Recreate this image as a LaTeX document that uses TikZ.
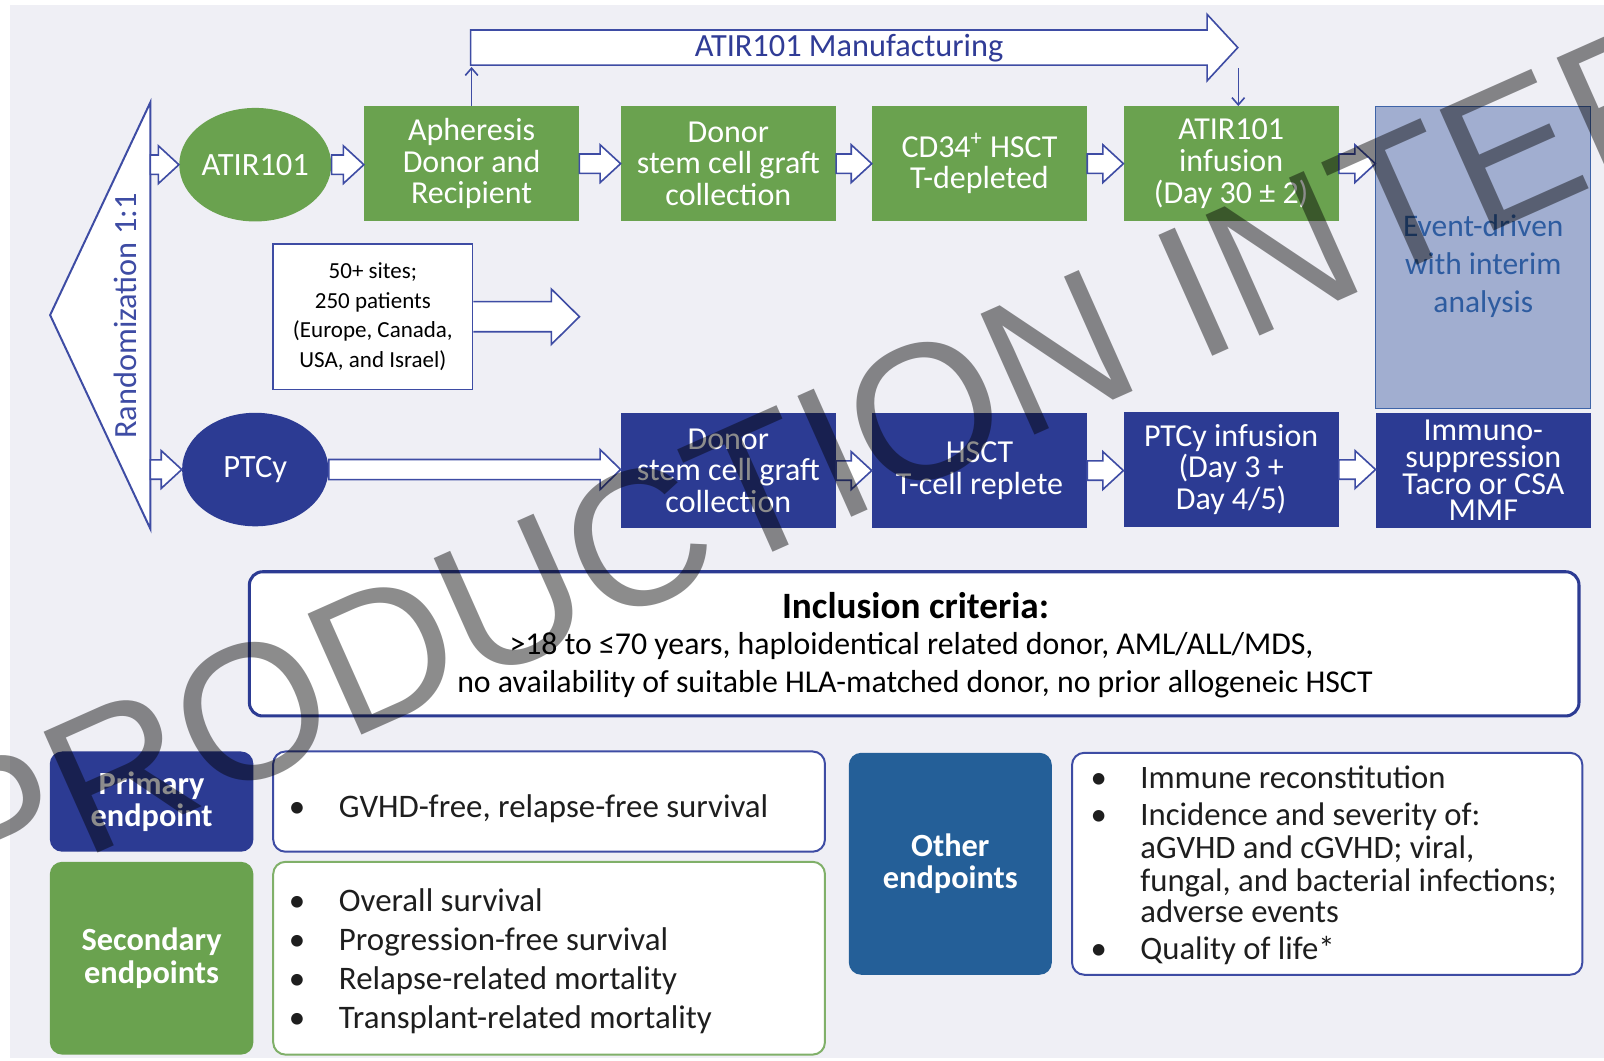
\documentclass[tikz,border=0pt]{standalone}
\usepackage{fontspec}
\setmainfont{Carlito}
\newfontfamily\wmfont{Liberation Sans}
\usetikzlibrary{calc,arrows.meta,shapes.geometric}

\definecolor{armgreen}{RGB}{106,162,79}
\definecolor{armblue}{RGB}{44,59,147}
\definecolor{lineblue}{RGB}{62,76,164}
\definecolor{textblue}{RGB}{48,60,150}
\definecolor{otherblue}{RGB}{36,95,152}
\definecolor{eventfill}{RGB}{161,174,208}
\definecolor{eventline}{RGB}{62,100,168}
\definecolor{eventtext}{RGB}{46,92,160}
\definecolor{slide}{RGB}{239,239,245}
\definecolor{ink}{RGB}{30,30,30}

% block arrow: from, to, shaft half, head half, head length
\newcommand\blockarrow[5]{%
  \draw[fat arrow] let \p1=#1, \p2=#2 in
    (\x1,{\y1+#3}) -- ({\x2-#5},{\y1+#3}) -- ({\x2-#5},{\y1+#4})
    -- (\x2,\y1) -- ({\x2-#5},{\y1-#4}) -- ({\x2-#5},{\y1-#3})
    -- (\x1,{\y1-#3}) -- cycle;}

\begin{document}
\begin{tikzpicture}[
    x=0.02cm, y=-0.02cm,
    >={Straight Barb[length=4pt,width=7pt]},
    fat arrow/.style={draw=lineblue, fill=white, line width=0.9pt},
    thin arrow/.style={draw=lineblue, line width=0.9pt, ->},
    arm box/.style={minimum width=4.2cm, minimum height=2.24cm, inner sep=0pt,
      align=center, text=white, font=\fontsize{17.8}{17.6}\selectfont},
    green box/.style={arm box, fill=armgreen},
    blue box/.style={arm box, fill=armblue},
    arm/.style={ellipse, minimum width=2.86cm, minimum height=2.22cm,
      inner sep=0pt, text=white, font=\fontsize{18.1}{18}\selectfont},
    label box/.style={rounded corners=0.24cm, text=white, align=center,
      inner sep=0pt, font=\bfseries\fontsize{18}{18.2}\selectfont},
    list box/.style={rounded corners=0.24cm, fill=white, line width=1.1pt},
    list text/.style={anchor=base west, inner sep=0pt, text=ink,
      font=\fontsize{18.3}{20}\selectfont},
    bullet/.style={anchor=base, inner sep=0pt, text=ink,
      font=\fontsize{18.3}{20}\selectfont},
    other text/.style={list text, font=\fontsize{18.2}{19}\selectfont},
    other bullet/.style={bullet, font=\fontsize{18.2}{19}\selectfont}
  ]

  \useasboundingbox (0,0) rectangle (1568,1037);
  \fill[slide] (10,5) rectangle (1568,1034);

  % Randomization
  \coordinate (randT) at (147,100);
  \coordinate (randB) at (147,517);
  \coordinate (randL) at (49,308);
  \draw[lineblue, fill=white, line width=1.1pt] (randT) -- (randB) -- (randL) -- cycle;
  \node[rotate=90, text=lineblue, font=\fontsize{18}{18}\selectfont] (rand)
    at (123,309) {Randomization 1:1};

  % Manufacturing
  \coordinate (mfgL) at (460,46.5);
  \coordinate (mfgR) at (1210,46.5);
  \blockarrow{(mfgL)}{(mfgR)}{9.8pt}{18.5pt}{17.1pt}
  \node[text=textblue, font=\fontsize{18}{18}\selectfont] (mfg) at (830,47)
    {ATIR101 Manufacturing};
  \coordinate (mfgbot) at (461,65.5);
  \coordinate (mfgdrop) at (1210.5,66.5);

  % ATIR101 arm
  \node[arm, fill=armgreen] (atir) at (249.5,161) {ATIR101};
  \node[green box] (aph)  at (461,160)    {Apheresis\\Donor and\\Recipient};
  \node[green box] (don1) at (712,160)    {Donor\\stem cell graft\\collection};
  \node[green box] (cd34) at (957.5,160)  {CD34\textsuperscript{+} HSCT\\T-depleted};
  \node[green box] (inf1) at (1203.5,160) {ATIR101\\infusion\\(Day 30 ± 2)};
  \node[draw=eventline, fill=eventfill, line width=0.6pt, minimum width=4.2cm,
    minimum height=5.91cm, inner sep=0pt] (event) at (1450,251.5) {};
  \node[text=eventtext, align=center, font=\fontsize{17.5}{21.3}\selectfont]
    (eventtxt) at (1450,260) {Event-driven\\with interim\\analysis};

  % PTCy arm
  \node[arm, fill=armblue] (ptcy) at (249.5,459) {PTCy};
  \node[blue box] (don2)   at (712,460)    {Donor\\stem cell graft\\collection};
  \node[blue box] (hsct)   at (957.5,460)  {HSCT\\T-cell replete};
  \node[blue box] (inf2)   at (1203.5,459) {PTCy infusion\\(Day 3 +\\Day 4/5)};
  \node[blue box, font=\fontsize{17.8}{14.8}\selectfont] (immuno) at (1450,460)
    {Immuno-\\suppression\\Tacro or CSA\\MMF};

  % connectors
  \blockarrow{(randT |- atir.west)}{(atir.west)}{5.4pt}{10.5pt}{11.4pt}
  \blockarrow{(randT |- ptcy.west)}{(ptcy.west)}{5.4pt}{10.5pt}{11.4pt}
  \blockarrow{(atir.east)}{(aph.west)}{5.4pt}{10.5pt}{11.4pt}
  \blockarrow{(aph.east)}{(don1.west)}{5.4pt}{10.5pt}{11.4pt}
  \blockarrow{(don1.east)}{(cd34.west)}{5.4pt}{10.5pt}{11.4pt}
  \blockarrow{(cd34.east)}{(inf1.west)}{5.4pt}{10.5pt}{11.4pt}
  \blockarrow{(inf1.east)}{(event.west)}{5.4pt}{10.5pt}{11.4pt}
  \blockarrow{(ptcy.east)}{(don2.west)}{5.6pt}{11.1pt}{11.4pt}
  \blockarrow{(don2.east)}{(hsct.west)}{5.4pt}{10.5pt}{11.4pt}
  \blockarrow{(hsct.east)}{(inf2.west)}{5.4pt}{10.5pt}{11.4pt}
  \blockarrow{(inf2.east)}{(immuno.west)}{5.4pt}{10.5pt}{11.4pt}
  \draw[thin arrow] (aph.north) -- (mfgbot);
  \draw[thin arrow] (mfgdrop) -- (mfgdrop |- inf1.north);

  % sites
  \node[draw=lineblue, fill=white, line width=0.9pt, minimum width=3.9cm,
    minimum height=2.84cm, inner sep=0pt, align=center,
    font=\fontsize{12.8}{16.5}\selectfont] (sites) at (364.5,309.6)
    {50+ sites;\\250 patients\\(Europe, Canada,\\USA, and Israel)};
  \coordinate (sitestip) at (566.4,309.6);
  \fill[white] let \p1=(sites.east), \p2=(sitestip) in
    ({\x1-0.5pt},{\y1+8.4pt}) rectangle ({\x2-15.6pt},{\y1-8.4pt});
  \draw[fat arrow] let \p1=(sites.east), \p2=(sitestip) in
    (\x1,{\y1+8.4pt}) -- ({\x2-15.6pt},{\y1+8.4pt}) -- ({\x2-15.6pt},{\y1+15.4pt})
    -- (\x2,\y1) -- ({\x2-15.6pt},{\y1-15.4pt}) -- ({\x2-15.6pt},{\y1-8.4pt})
    -- (\x1,{\y1-8.4pt});

  % Inclusion criteria
  \node[draw=armblue, fill=white, line width=1.7pt, rounded corners=0.26cm,
    minimum width=26cm, minimum height=2.82cm] (incl) at (893.65,629.4) {};
  \node[anchor=base, font=\bfseries\fontsize{20.7}{20}\selectfont] (incltitle)
    at (895,605) {Inclusion criteria:};
  \node[anchor=base, font=\fontsize{17.7}{18}\selectfont] (incl1) at (891,640)
    {>18 to ≤70 years, haploidentical related donor, AML/ALL/MDS,};
  \node[anchor=base, font=\fontsize{17.7}{18}\selectfont] (incl2) at (894.5,677)
    {no availability of suitable HLA-matched donor, no prior allogeneic HSCT};

  % Endpoints
  \node[label box, fill=armblue, minimum width=3.98cm, minimum height=1.96cm]
    (prim) at (148.2,783.6) {Primary\\endpoint};
  \node[list box, draw=lineblue, minimum width=10.79cm, minimum height=1.96cm]
    (primlist) at (536.75,783.6) {};
  \node[bullet] (primb1) at (290.5,799.5) {\textbullet};
  \node[list text] (primt1) at (331,799.5) {GVHD-free, relapse-free survival};

  \node[label box, fill=armgreen, minimum width=3.98cm, minimum height=3.77cm]
    (sec) at (148.2,936.7) {Secondary\\endpoints};
  \node[list box, draw=armgreen!85!white, minimum width=10.79cm, minimum height=3.77cm]
    (seclist) at (536.75,936.7) {};
  \foreach \txt [count=\i] in {Overall survival, Progression-free survival,
      Relapse-related mortality, Transplant-related mortality} {
    \node[bullet] (secb\i) at (290.5,{853.5+38*\i}) {\textbullet};
    \node[list text] (sect\i) at (331,{853.5+38*\i}) {\txt};
  }

  \node[label box, fill=otherblue, minimum width=3.97cm, minimum height=4.34cm]
    (oth) at (929,844.4) {Other\\endpoints};
  \node[list box, draw=lineblue, minimum width=9.98cm, minimum height=4.34cm]
    (othlist) at (1297.4,844.4) {};
  \foreach \yy/\txt/\b [count=\i] in {771/Immune reconstitution/1,
      807/Incidence and severity of:/1, 839.5/{aGVHD and cGVHD; viral,}/0,
      871/{fungal, and bacterial infections;}/0, 902/adverse events/0,
      938/Quality of life*/1} {
    \ifnum\b=1
    \node[other bullet] (othb\i) at (1074,\yy) {\textbullet};
    \fi
    \node[other text] (otht\i) at (1114.4,\yy) {\txt};
  }

  % watermark
  \begin{scope}
    \clip (0,0) rectangle (1568,1037);
    \node[rotate=24, anchor=base west, inner sep=0pt, text=black, text opacity=0.45,
      font=\wmfont\fontsize{107}{110}\selectfont] (wm) at (-33,891)
      {PRODUCTION INTER};
  \end{scope}
\end{tikzpicture}
\end{document}
